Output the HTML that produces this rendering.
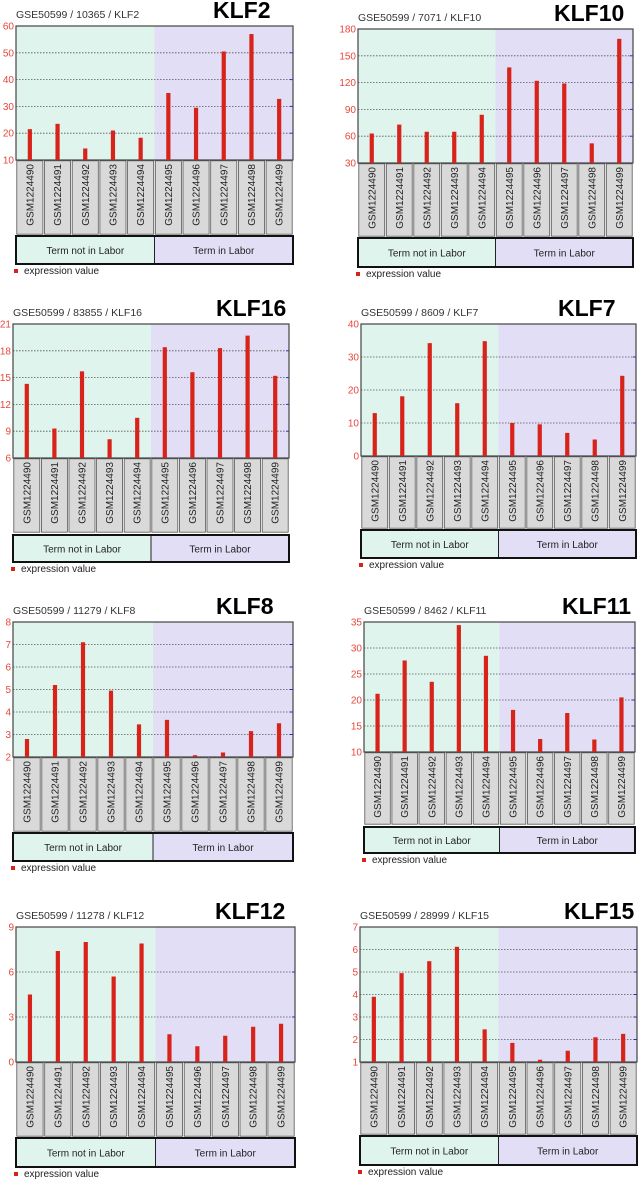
<!DOCTYPE html>
<html><head><meta charset="utf-8"><style>
html,body{margin:0;padding:0;background:#fff;}
svg{display:block;font-family:"Liberation Sans",Arial,sans-serif;}
</style></head><body>
<svg id="fig" width="638" height="1183" viewBox="0 0 638 1183"></svg>
<script>
const samples = ["GSM1224490","GSM1224491","GSM1224492","GSM1224493","GSM1224494","GSM1224495","GSM1224496","GSM1224497","GSM1224498","GSM1224499"];
const groups = ["Term not in Labor","Term in Labor"];
const genes = ["KLF2","KLF10","KLF16","KLF7","KLF8","KLF11","KLF12","KLF15"];
const subtitles = ["GSE50599 / 10365 / KLF2","GSE50599 / 7071 / KLF10","GSE50599 / 83855 / KLF16","GSE50599 / 8609 / KLF7","GSE50599 / 11279 / KLF8","GSE50599 / 8462 / KLF11","GSE50599 / 11278 / KLF12","GSE50599 / 28999 / KLF15"];
const valsKLF2  = [21.5,23.5,14.3,21,18.3,35,29.5,50.5,57,32.8];
const valsKLF10 = [63,73,65,65,84,137,122,119,52,169];
const valsKLF16 = [14.3,9.3,15.7,8.1,10.5,18.4,15.6,18.3,19.7,15.2];
const valsKLF7  = [13,18.1,34.2,16,34.8,10,9.6,7,5,24.3];
const valsKLF8  = [2.8,5.2,7.1,4.95,3.45,3.65,2.08,2.2,3.15,3.5];
const valsKLF11 = [21.2,27.6,23.5,34.4,28.5,18.1,12.5,17.5,12.4,20.5];
const valsKLF12 = [4.5,7.4,8.0,5.7,7.9,1.85,1.05,1.75,2.35,2.55];
const valsKLF15 = [3.9,4.95,5.48,6.12,2.45,1.85,1.1,1.5,2.1,2.25];
const ticksKLF2  = [10,20,30,40,50,60];
const ticksKLF10 = [30,60,90,120,150,180];
const ticksKLF16 = [6,9,12,15,18,21];
const ticksKLF7  = [0,10,20,30,40];
const ticksKLF8  = [2,3,4,5,6,7,8];
const ticksKLF11 = [10,15,20,25,30,35];
const ticksKLF12 = [0,3,6,9];
const ticksKLF15 = [1,2,3,4,5,6,7];
const allVals = [valsKLF2,valsKLF10,valsKLF16,valsKLF7,valsKLF8,valsKLF11,valsKLF12,valsKLF15];
const allTicks = [ticksKLF2,ticksKLF10,ticksKLF16,ticksKLF7,ticksKLF8,ticksKLF11,ticksKLF12,ticksKLF15];
// layout: left, right, plotTop, plotBottom, labelBottom, groupTop, groupBottom, legendY, bigTitleX
const layout = [
 [16,293,26,160,235,236,264,272,213],
 [358,633,29,163,237,238,267,275,554],
 [13,289,324,458,533,535,562,570,216],
 [361,636,324,456,529,530,558,566,558],
 [13,293,622,757,832,833,861,869,216],
 [364,635,622,752,825,827,853,861,562],
 [16,295,927,1062,1137,1138,1167,1175,215],
 [360,637,927,1062,1135,1136,1165,1173,564]
];
const NS="http://www.w3.org/2000/svg";
const svg=document.getElementById('fig');
function mk(tag,attrs,parent){const e=document.createElementNS(NS,tag);for(const k in attrs)e.setAttribute(k,attrs[k]);(parent||svg).appendChild(e);return e;}

genes.forEach((gene,p)=>{
  const [L,R,T,B,LB,GT,GB,LY,BX]=layout[p];
  const vals=allVals[p], ticks=allTicks[p];
  const g=mk('g',{});
  
  
  const ymin=ticks[0], ymax=ticks[ticks.length-1];
  const y=v=>B-(v-ymin)/(ymax-ymin)*(B-T);
  const cw=(R-L)/samples.length;
  const x=i=>L+cw*(i+0.5);
  const mid=L+cw*5;
  const bg1=mk('rect',{x:L,y:T,width:mid-L,height:B-T,fill:'#e0f4ee'},g);
  
  
  const bg2=mk('rect',{x:mid,y:T,width:R-mid,height:B-T,fill:'#e1def5'},g);
  
  
  ticks.forEach((t,k)=>{
    const yy=y(t);
    if(k>0&&k<ticks.length-1){
      const gl=mk('line',{x1:L,x2:R-3,y1:yy,y2:yy,stroke:'#555','stroke-width':0.8,'stroke-dasharray':'1.5,1.5'},g);
      
      
      mk('line',{x1:R-3,x2:R,y1:yy,y2:yy,stroke:'#2233cc','stroke-width':1},g);
    }
    const tl=mk('text',{x:L-2,y:yy+3.5,'text-anchor':'end','font-size':10,fill:'#e8463a'},g);
    tl.textContent=t;
    
    
  });
  const fr=mk('rect',{x:L,y:T,width:R-L,height:B-T,fill:'none',stroke:'#444','stroke-width':1.2},g);
  
  
  vals.forEach((v,i)=>{
    const b=mk('rect',{x:x(i)-2.1,y:y(v),width:4.2,height:B-y(v),fill:'#d8231a'},g);
    
    
  });
  samples.forEach((s,i)=>{
    const bx=mk('rect',{x:L+cw*i+0.8,y:B+0.8,width:cw-1.6,height:LB-B-1.6,fill:'#d9d9d9',stroke:'#555','stroke-width':0.8},g);
    
    
    const tx=mk('text',{x:0,y:0,'font-size':10,fill:'#222','text-anchor':'end',transform:`translate(${x(i)+3.5},${B+4}) rotate(-90)`},g);
    tx.textContent=s;
    
    
  });
  const gb1=mk('rect',{x:L,y:GT,width:mid-L,height:GB-GT,fill:'#e0f4ee',stroke:'#222','stroke-width':1},g);
  
  
  const gb2=mk('rect',{x:mid,y:GT,width:R-mid,height:GB-GT,fill:'#e1def5',stroke:'#222','stroke-width':1},g);
  
  
  mk('rect',{x:L,y:GT,width:R-L,height:GB-GT,fill:'none',stroke:'#111','stroke-width':2},g);
  [[L+(mid-L)/2,groups[0]],[mid+(R-mid)/2,groups[1]]].forEach(([cx,lab])=>{
    const t=mk('text',{x:cx,y:(GT+GB)/2+4,'text-anchor':'middle','font-size':10,fill:'#222'},g);
    t.textContent=lab;
    
    
  });
  const lg=mk('g',{},g);
  
  
  mk('rect',{x:L-2,y:LY-3,width:4,height:4,fill:'#d8231a'},lg);
  const lt=mk('text',{x:L+8,y:LY+2,'font-size':10,fill:'#222'},lg);
  lt.textContent='expression value';
  const st=mk('text',{x:L,y:T-8,'font-size':10.5,fill:'#333'},g);
  st.textContent=subtitles[p];
  
  
  const bt=mk('text',{x:BX,y:T-8,'font-size':23,'font-weight':'bold',fill:'#000'},g);
  bt.textContent=gene;
  
  
});
</script>
</body></html>
